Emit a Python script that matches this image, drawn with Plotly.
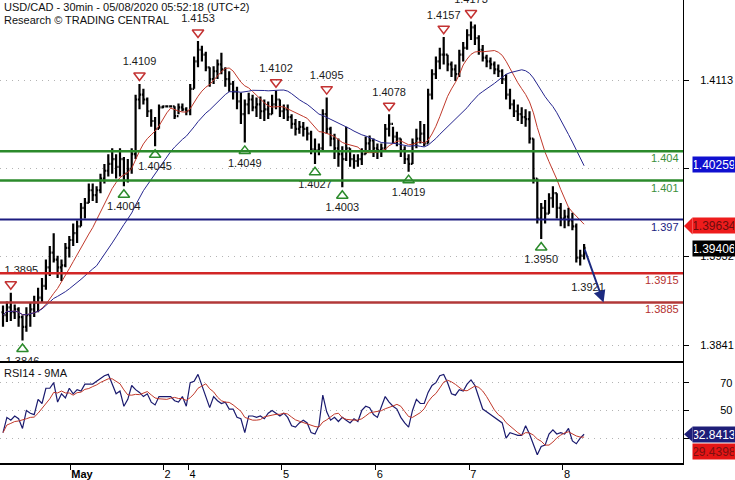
import pandas as pd
import plotly.graph_objects as go

# ---------------- data ----------------
title_text = "USD/CAD - 30min - 05/08/2020 05:52:18 (UTC+2)"
subtitle_text = "Research © TRADING CENTRAL"
rsi_title = "RSI14 - 9MA"

first_open = 1.3875
bar_high = [
    1.3882, 1.3886, 1.3895, 1.3883, 1.3880, 1.3872, 1.3880, 1.3885, 1.3892, 1.3900,
    1.3910, 1.3929, 1.3943, 1.3956, 1.3933, 1.3929, 1.3946, 1.3953, 1.3966, 1.3969,
    1.3987, 1.3992, 1.4007, 1.4007, 1.4004, 1.4017, 1.4027, 1.4037, 1.4043, 1.4037,
    1.4043, 1.4034, 1.4032, 1.4043, 1.4098, 1.4109, 1.4104, 1.4095, 1.4083, 1.4075,
    1.4088, 1.4087, 1.4087, 1.4087, 1.4086, 1.4089, 1.4089, 1.4085, 1.4109, 1.4137,
    1.4153, 1.4148, 1.4142, 1.4126, 1.4127, 1.4134, 1.4141, 1.4126, 1.4122, 1.4112,
    1.4106, 1.4100, 1.4093, 1.4100, 1.4098, 1.4095, 1.4096, 1.4093, 1.4091, 1.4098,
    1.4102, 1.4093, 1.4088, 1.4088, 1.4078, 1.4073, 1.4071, 1.4070, 1.4065, 1.4061,
    1.4053, 1.4048, 1.4083, 1.4095, 1.4065, 1.4058, 1.4053, 1.4045, 1.4065, 1.4043,
    1.4037, 1.4037, 1.4043, 1.4055, 1.4056, 1.4053, 1.4048, 1.4048, 1.4068, 1.4078,
    1.4065, 1.4060, 1.4053, 1.4045, 1.4037, 1.4053, 1.4063, 1.4071, 1.4068, 1.4104,
    1.4124, 1.4137, 1.4146, 1.4157, 1.4139, 1.4132, 1.4129, 1.4144, 1.4152, 1.4165,
    1.4173, 1.4170, 1.4159, 1.4149, 1.4139, 1.4136, 1.4132, 1.4129, 1.4124, 1.4119,
    1.4104, 1.4093, 1.4088, 1.4085, 1.4083, 1.4081, 1.4053, 1.4012, 1.3987, 1.3990,
    1.3997, 1.4004, 1.3997, 1.3987, 1.3980, 1.3982, 1.3977, 1.3966, 1.3939, 1.3945,
]
bar_low = [
    1.3860, 1.3865, 1.3866, 1.3868, 1.3860, 1.3846, 1.3855, 1.3860, 1.3870, 1.3875,
    1.3885, 1.3898, 1.3912, 1.3926, 1.3910, 1.3907, 1.3921, 1.3931, 1.3943, 1.3946,
    1.3963, 1.3971, 1.3987, 1.3989, 1.3987, 1.3997, 1.4007, 1.4014, 1.4017, 1.4012,
    1.4014, 1.4004, 1.4008, 1.4017, 1.4032, 1.4083, 1.4088, 1.4075, 1.4065, 1.4045,
    1.4063, 1.4084, 1.4085, 1.4085, 1.4073, 1.4078, 1.4081, 1.4077, 1.4077, 1.4104,
    1.4126, 1.4132, 1.4122, 1.4106, 1.4109, 1.4114, 1.4119, 1.4106, 1.4101, 1.4093,
    1.4083, 1.4068, 1.4049, 1.4078, 1.4081, 1.4075, 1.4073, 1.4071, 1.4073, 1.4078,
    1.4083, 1.4075, 1.4073, 1.4071, 1.4063, 1.4056, 1.4058, 1.4055, 1.4051, 1.4037,
    1.4027, 1.4036, 1.4041, 1.4058, 1.4045, 1.4032, 1.4024, 1.4003, 1.4030, 1.4024,
    1.4022, 1.4024, 1.4026, 1.4037, 1.4041, 1.4034, 1.4032, 1.4034, 1.4041, 1.4055,
    1.4048, 1.4045, 1.4034, 1.4027, 1.4019, 1.4027, 1.4043, 1.4048, 1.4045, 1.4048,
    1.4093, 1.4114, 1.4124, 1.4129, 1.4122, 1.4116, 1.4112, 1.4116, 1.4132, 1.4144,
    1.4154, 1.4149, 1.4139, 1.4132, 1.4126, 1.4124, 1.4119, 1.4116, 1.4109, 1.4093,
    1.4083, 1.4075, 1.4071, 1.4068, 1.4065, 1.4048, 1.4007, 1.3966, 1.3950, 1.3966,
    1.3976, 1.3982, 1.3971, 1.3963, 1.3961, 1.3963, 1.3959, 1.3926, 1.3923, 1.3929,
]
bar_close = [
    1.3872, 1.3880, 1.3875, 1.3878, 1.3870, 1.3860, 1.3872, 1.3878, 1.3885, 1.3890,
    1.3902, 1.3921, 1.3936, 1.3929, 1.3921, 1.3923, 1.3941, 1.3949, 1.3956, 1.3963,
    1.3982, 1.3987, 1.4000, 1.3995, 1.4000, 1.4012, 1.4020, 1.4027, 1.4032, 1.4024,
    1.4032, 1.4017, 1.4022, 1.4037, 1.4093, 1.4098, 1.4093, 1.4081, 1.4071, 1.4063,
    1.4085, 1.4086, 1.4086, 1.4086, 1.4076, 1.4085, 1.4083, 1.4081, 1.4104, 1.4132,
    1.4144, 1.4139, 1.4126, 1.4114, 1.4122, 1.4129, 1.4124, 1.4114, 1.4109, 1.4101,
    1.4091, 1.4078, 1.4088, 1.4093, 1.4085, 1.4088, 1.4081, 1.4083, 1.4078, 1.4088,
    1.4093, 1.4081, 1.4083, 1.4075, 1.4068, 1.4063, 1.4065, 1.4063, 1.4058, 1.4042,
    1.4041, 1.4043, 1.4078, 1.4063, 1.4053, 1.4043, 1.4037, 1.4032, 1.4043, 1.4032,
    1.4030, 1.4032, 1.4037, 1.4048, 1.4051, 1.4043, 1.4041, 1.4043, 1.4063, 1.4068,
    1.4055, 1.4053, 1.4041, 1.4032, 1.4027, 1.4048, 1.4053, 1.4058, 1.4048, 1.4098,
    1.4119, 1.4132, 1.4139, 1.4139, 1.4129, 1.4124, 1.4119, 1.4139, 1.4146, 1.4159,
    1.4167, 1.4156, 1.4144, 1.4136, 1.4132, 1.4129, 1.4124, 1.4122, 1.4114, 1.4098,
    1.4088, 1.4081, 1.4078, 1.4075, 1.4073, 1.4053, 1.4012, 1.3971, 1.3982, 1.3976,
    1.3992, 1.3997, 1.3982, 1.3971, 1.3973, 1.3969, 1.3963, 1.3931, 1.3933, 1.3941,
]
rsi_values = [
    34, 45, 43, 46, 44, 37, 50, 48, 47, 58,
    55, 66, 66, 70, 56, 62, 59, 66, 62, 65,
    64, 69, 69, 69, 71, 73, 75, 76, 69, 62,
    64, 53, 58, 68, 65, 63, 60, 62, 56, 54,
    60, 60, 60, 60, 57, 56, 60, 53, 70, 71,
    76, 68, 61, 52, 60, 57, 55, 56, 51, 51,
    45, 44, 34, 46, 46, 45, 46, 44, 48, 50,
    48, 46, 48, 45, 39, 38, 41, 43, 41, 34,
    33, 39, 61, 49, 43, 45, 42, 45, 43, 41,
    44, 42, 50, 53, 52, 47, 45, 52, 60, 56,
    53, 51, 45, 41, 38, 50, 58, 55, 55, 63,
    68, 70, 75, 76, 70, 62, 61, 65, 64, 69,
    72, 68, 60, 51, 49, 47, 45, 43, 41, 30,
    34, 33, 32, 32, 39, 33, 25, 18, 24, 25,
    33, 36, 33, 34, 33, 37, 28, 26, 30, 32.84,
]

day_tick_pos = [17.2, 41.1, 47.5, 71.5, 95.5, 119.5, 143.5]
day_tick_text = ["<b>May</b>", "2", "4", "5", "6", "7", "8"]

price_tick_vals = [1.3841, 1.3932, 1.4022, 1.4113]
price_tick_text = ["1.3841", "1.3932", "", "1.4113"]
rsi_tick_vals = [30, 50, 70]
rsi_tick_text = ["", "50", "70"]

pivot_high_idx = [2, 35, 50, 70, 83, 99, 113, 120]
pivot_high_val = [1.3895, 1.4109, 1.4153, 1.4102, 1.4095, 1.4078, 1.4157, 1.4173]
pivot_low_idx = [5, 31, 39, 62, 80, 87, 104, 138]
pivot_low_val = [1.3846, 1.4004, 1.4045, 1.4049, 1.4027, 1.4003, 1.4019, 1.3950]

resistance_levels = [1.404, 1.401]
resistance_text = ["1.404", "1.401"]
pivot_level = 1.397
pivot_text = "1.397"
support_levels = [1.3915, 1.3885]
support_text = ["1.3915", "1.3885"]

target_idx = 150
target_val = 1.3921
arrow_end_idx = 154
arrow_end_val = 1.3885

ma_fast_window = 10
ma_slow_window = 25
rsi_ma_window = 5

badge_ma_slow = 1.40259
badge_ma_fast = 1.39634
badge_last = 1.39406
badge_rsi = 32.8413
badge_rsi_ma = 29.4398

# ---------------- layout geometry ----------------
W, H = 735, 480
M_R, M_B = 52, 13
plot_h = H - M_B
price_px = 366
split = 1 - price_px / plot_h
price_range = [1.38231, 1.41950]
rsi_range = [12.1, 84.3]
x_range = [-0.77, 174.36]
ppu = price_px / (price_range[1] - price_range[0])

FONT = "Liberation Sans, Arial, sans-serif"
GREEN = "#2b8a2b"
NAVY = "#1c1c80"
RED = "#d22626"
DRED = "#b23838"
MA_RED = "#c0392b"
MA_BLUE = "#26268f"

idx = list(range(len(bar_close)))
opens = [first_open] + bar_close[:-1]
closes = pd.Series(bar_close)
ma_fast = closes.rolling(ma_fast_window, min_periods=1).mean()
ma_slow = closes.rolling(ma_slow_window, min_periods=1).mean()
rsi_ma = pd.Series(rsi_values).rolling(rsi_ma_window, min_periods=1).mean()

fig = go.Figure()
fig.add_trace(go.Ohlc(x=idx, open=opens, high=bar_high, low=bar_low, close=bar_close,
                      increasing=dict(line=dict(color="black", width=2.2)),
                      decreasing=dict(line=dict(color="black", width=2.2)),
                      tickwidth=0.4, xaxis="x", yaxis="y", hoverinfo="skip",
                      showlegend=False))
fig.add_trace(go.Scatter(x=idx, y=ma_fast, mode="lines", line=dict(color=MA_RED, width=1),
                         xaxis="x", yaxis="y", showlegend=False, hoverinfo="skip"))
fig.add_trace(go.Scatter(x=idx, y=ma_slow, mode="lines", line=dict(color=MA_BLUE, width=1),
                         xaxis="x", yaxis="y", showlegend=False, hoverinfo="skip"))

tri_off = 8.5 / ppu
lab_off = 21.5 / ppu
fig.add_trace(go.Scatter(x=pivot_high_idx, y=[v + tri_off for v in pivot_high_val],
                         mode="markers", marker=dict(symbol="triangle-down-open", size=10,
                         color="#c33232", line=dict(width=1.5)),
                         xaxis="x", yaxis="y", showlegend=False, hoverinfo="skip", cliponaxis=True))
fig.add_trace(go.Scatter(x=pivot_low_idx, y=[v - tri_off for v in pivot_low_val],
                         mode="markers", marker=dict(symbol="triangle-up-open", size=10,
                         color=GREEN, line=dict(width=1.5)),
                         xaxis="x", yaxis="y", showlegend=False, hoverinfo="skip", cliponaxis=True))

lab_x, lab_y, lab_t, lab_pos = [], [], [], []
for i, v in zip(pivot_high_idx, pivot_high_val):
    lab_x.append(i if i >= 4 else i - 1.6)
    lab_pos.append("middle center" if i >= 4 else "middle right")
    lab_y.append(v + lab_off)
    lab_t.append(f"{v:.4f}")
for i, v in zip(pivot_low_idx + [target_idx], pivot_low_val + [target_val]):
    lab_x.append(i)
    lab_pos.append("middle center")
    lab_y.append(v - lab_off)
    lab_t.append(f"{v:.4f}")
fig.add_trace(go.Scatter(x=lab_x, y=lab_y, text=lab_t, mode="text", textposition=lab_pos,
                         textfont=dict(family=FONT, size=11, color="#1a1a1a"),
                         xaxis="x", yaxis="y", showlegend=False, hoverinfo="skip", cliponaxis=True))

fig.add_trace(go.Scatter(x=idx, y=rsi_values, mode="lines", line=dict(color="#1a1a6e", width=1.2),
                         xaxis="x2", yaxis="y2", showlegend=False, hoverinfo="skip"))
fig.add_trace(go.Scatter(x=idx, y=rsi_ma, mode="lines", line=dict(color=MA_RED, width=1),
                         xaxis="x2", yaxis="y2", showlegend=False, hoverinfo="skip"))

shapes = []
annotations = []

def level(v, color, width, text, tcolor):
    shapes.append(dict(type="line", xref="paper", yref="y", x0=0, x1=1, y0=v, y1=v,
                       line=dict(color=color, width=width)))
    annotations.append(dict(xref="paper", yref="y", x=1, y=v, xanchor="right", yanchor="middle",
                            xshift=-2, yshift=-7, text=text, showarrow=False,
                            font=dict(family=FONT, size=11, color=tcolor)))

for v, t in zip(resistance_levels, resistance_text):
    level(v, GREEN, 2.5, t, "#3a8f3a")
level(pivot_level, NAVY, 2, pivot_text, NAVY)
level(support_levels[0], RED, 2.5, support_text[0], "#b33030")
level(support_levels[1], DRED, 2.5, support_text[1], "#b33030")

# projection arrow
annotations.append(dict(x=arrow_end_idx, y=arrow_end_val, xref="x", yref="y",
                        ax=idx[-1], ay=bar_close[-1], axref="x", ayref="y",
                        showarrow=True, arrowhead=2, arrowsize=1.2, arrowwidth=2,
                        arrowcolor="#1c2a80", text=""))

# title texts
annotations.append(dict(xref="paper", yref="paper", x=0, y=1, xanchor="left", yanchor="top",
                        xshift=2, yshift=1, text=title_text, showarrow=False,
                        font=dict(family=FONT, size=11, color="#111")))
annotations.append(dict(xref="paper", yref="paper", x=0, y=1, xanchor="left", yanchor="top",
                        xshift=2, yshift=-12, text=subtitle_text, showarrow=False,
                        font=dict(family=FONT, size=11, color="#111")))
annotations.append(dict(xref="paper", yref="paper", x=0, y=split, xanchor="left", yanchor="top",
                        xshift=2, yshift=-2, text=rsi_title, showarrow=False,
                        font=dict(family=FONT, size=11, color="#111")))

def badge(v, yref, bg, fg, yshift=0, tip=False, dy=0.0):
    annotations.append(dict(xref="paper", yref=yref, x=1, y=v, xanchor="left", yanchor="middle",
                            xshift=9, yshift=yshift, text=f"{v}", showarrow=False,
                            bgcolor=bg, width=40, height=13, borderpad=1,
                            font=dict(family=FONT, size=12, color=fg)))
    if tip:
        xr = 1 + 9.5 / (W - M_R)
        shapes.append(dict(type="path", xref="paper", yref=yref,
                           path=f"M 1.0015,{v} L {xr},{v + dy} L {xr},{v - dy} Z",
                           fillcolor=bg, line=dict(width=0)))

badge(badge_ma_slow, "y", "#1010d0", "white")
badge(badge_ma_fast, "y", "#ee1c1c", "#6b0d0d", tip=True, dy=8.5 / ppu)
badge(badge_last, "y", "black", "white")
badge(badge_rsi, "y2", "#1e1e78", "white", tip=True, dy=7.5 / (101 / (rsi_range[1] - rsi_range[0])))
badge(badge_rsi_ma, "y2", "#e51515", "#7a1010", yshift=-13)

grid = dict(gridcolor="#b4b4b4", griddash="1px,5px", gridwidth=1)

fig.update_layout(
    width=W, height=H, autosize=False,
    margin=dict(l=0, r=M_R, t=0, b=M_B, pad=0),
    paper_bgcolor="white", plot_bgcolor="white",
    font=dict(family=FONT, size=11, color="black"),
    showlegend=False,
    xaxis=dict(domain=[0, 1], anchor="y", range=x_range, showticklabels=False, showgrid=False,
               zeroline=False, showline=False, ticks="", rangeslider=dict(visible=False)),
    yaxis=dict(domain=[split, 1], anchor="x", side="right", range=price_range,
               tickvals=price_tick_vals, ticktext=price_tick_text, showline=True,
               linecolor="black", linewidth=1, ticks="outside", ticklen=5, tickcolor="black",
               ticklabelstandoff=9, zeroline=False, tickfont=dict(size=11), **grid),
    xaxis2=dict(domain=[0, 1], anchor="y2", range=x_range, tickvals=day_tick_pos,
                ticktext=day_tick_text, ticks="outside", ticklen=5, tickcolor="black",
                ticklabelposition="outside right", showline=True, mirror=True,
                linecolor="black", linewidth=1.5, showgrid=False, zeroline=False,
                tickfont=dict(size=11)),
    yaxis2=dict(domain=[0, split], anchor="x2", side="right", range=rsi_range,
                tickvals=rsi_tick_vals, ticktext=rsi_tick_text, showline=True,
                linecolor="black", linewidth=1, ticks="outside", ticklen=5, tickcolor="black",
                ticklabelstandoff=29, zeroline=False, tickfont=dict(size=11), **grid),
    shapes=shapes, annotations=annotations,
)

fig.write_html("out.html", config={"displayModeBar": False},
               post_script="document.body.style.margin='0px';document.body.style.overflow='hidden';")
